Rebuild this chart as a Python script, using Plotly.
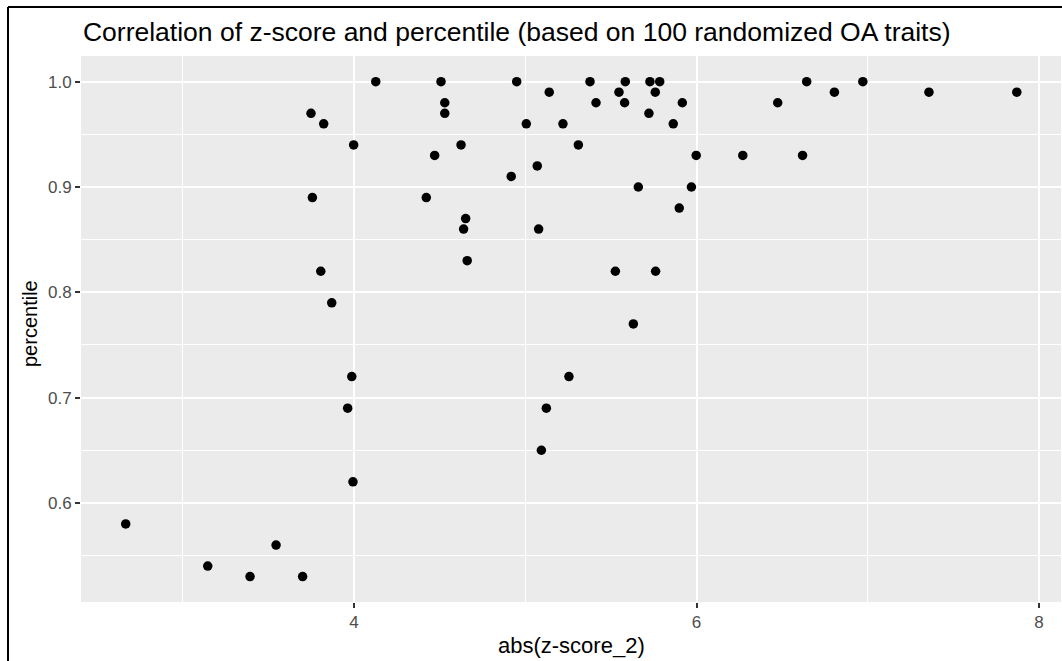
import plotly.graph_objects as go

# abs(z-score_2) and percentile values
z_abs = [4.127, 4.508, 4.530, 4.530, 3.749, 3.823, 3.998, 4.625, 4.471, 3.757,
         4.422, 4.652, 4.640, 4.661, 3.806, 3.870,
         4.950, 5.378, 5.584, 5.728, 5.785, 5.140, 5.547, 5.759, 5.413, 5.580,
         5.917, 5.722, 5.006, 5.220, 5.864, 5.310, 5.998, 5.070, 4.918, 5.660,
         5.970, 5.899, 5.078, 5.526, 5.761, 5.631,
         6.643, 6.971, 6.474, 6.805, 7.357, 7.870, 6.270, 6.619,
         3.987, 3.963, 3.994, 2.667, 3.545, 3.146, 3.393, 3.700,
         5.255, 5.123, 5.094]
percentile = [1.00, 1.00, 0.98, 0.97, 0.97, 0.96, 0.94, 0.94, 0.93, 0.89,
              0.89, 0.87, 0.86, 0.83, 0.82, 0.79,
              1.00, 1.00, 1.00, 1.00, 1.00, 0.99, 0.99, 0.99, 0.98, 0.98,
              0.98, 0.97, 0.96, 0.96, 0.96, 0.94, 0.93, 0.92, 0.91, 0.90,
              0.90, 0.88, 0.86, 0.82, 0.82, 0.77,
              1.00, 1.00, 0.98, 0.99, 0.99, 0.99, 0.93, 0.93,
              0.72, 0.69, 0.62, 0.58, 0.56, 0.54, 0.53, 0.53,
              0.72, 0.69, 0.65]

x_ticks = [4, 6, 8]
y_ticks = [0.6, 0.7, 0.8, 0.9, 1.0]
y_tick_labels = ["0.6", "0.7", "0.8", "0.9", "1.0"]

FONT = "Liberation Sans, Arial, sans-serif"

fig = go.Figure()
fig.add_trace(go.Scatter(
    x=z_abs, y=percentile, mode="markers",
    marker=dict(color="black", size=9.5, line=dict(width=0)),
    showlegend=False, hoverinfo="x+y",
))

axis_common = dict(
    showgrid=True, gridcolor="white", gridwidth=2,
    zeroline=False, showline=False,
    ticks="outside", ticklen=5, tickwidth=1.5, tickcolor="#333333",
    tickfont=dict(family=FONT, size=17, color="#4D4D4D"),
)

fig.update_layout(
    width=1062, height=661,
    margin=dict(l=81, r=1, t=56, b=59),
    paper_bgcolor="white", plot_bgcolor="#EBEBEB",
    font=dict(family=FONT),
    title=dict(
        text="Correlation of z-score and percentile (based on 100 randomized OA traits)",
        x=0.002, xref="paper", xanchor="left",
        y=1 - 32 / 661, yref="container", yanchor="middle",
        font=dict(family=FONT, size=26.5, color="black"),
    ),
    xaxis=dict(
        range=[2.406, 8.128], tickvals=x_ticks, ticktext=[str(v) for v in x_ticks],
        minor=dict(dtick=1, tick0=3, showgrid=True, gridcolor="white", gridwidth=1, ticks=""),
        **axis_common,
    ),
    yaxis=dict(
        range=[0.5059, 1.0244], tickvals=y_ticks, ticktext=y_tick_labels,
        minor=dict(dtick=0.05, tick0=0.55, showgrid=True, gridcolor="white", gridwidth=1, ticks=""),
        **axis_common,
    ),
    annotations=[
        dict(text="abs(z-score_2)", xref="paper", yref="paper", x=0.5, y=(602 - 645) / 546,
             xanchor="center", yanchor="middle", showarrow=False,
             font=dict(family=FONT, size=22, color="black")),
        dict(text="percentile", xref="paper", yref="paper", x=(30 - 81) / 980, y=(602 - 324) / 546,
             xanchor="center", yanchor="middle", showarrow=False, textangle=-90,
             font=dict(family=FONT, size=20, color="black")),
    ],
    shapes=[
        dict(type="line", xref="paper", yref="paper",
             x0=(8 - 81) / 980, x1=(8 - 81) / 980, y0=(602 - 662) / 546, y1=(602 - 7) / 546,
             line=dict(color="black", width=2)),
        dict(type="line", xref="paper", yref="paper",
             x0=(8 - 81) / 980, x1=(1063 - 81) / 980, y0=(602 - 7) / 546, y1=(602 - 7) / 546,
             line=dict(color="black", width=2)),
    ],
)

fig.write_html("out.html")
